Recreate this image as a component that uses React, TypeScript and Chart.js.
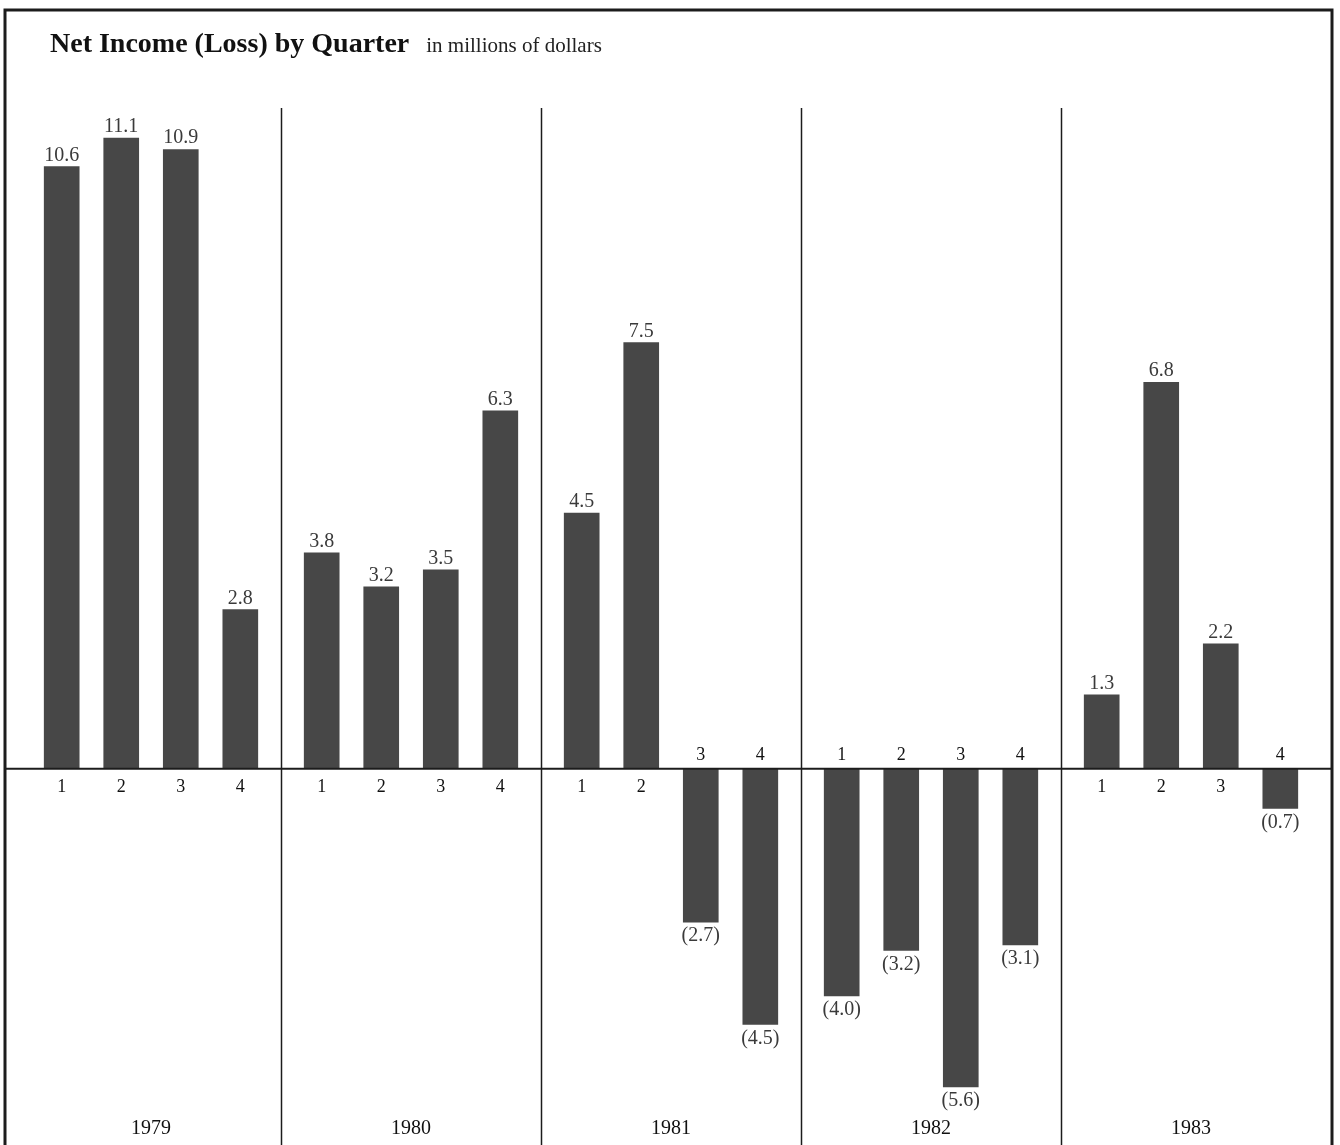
import React, { useEffect, useRef } from "react";
import { Chart, registerables } from "chart.js";

Chart.register(...registerables);

// Net income (loss) per quarter, in millions of dollars
const YEARS = ["1979", "1980", "1981", "1982", "1983"];
const QUARTERS = ["1", "2", "3", "4"];
const income1979 = [10.6, 11.1, 10.9, 2.8];
const income1980 = [3.8, 3.2, 3.5, 6.3];
const income1981 = [4.5, 7.5, -2.7, -4.5];
const income1982 = [-4.0, -3.2, -5.6, -3.1];
const income1983 = [1.3, 6.8, 2.2, -0.7];
const incomeByYear = [income1979, income1980, income1981, income1982, income1983];

const TITLE = "Net Income (Loss) by Quarter";
const SUBTITLE = "in millions of dollars";

// Layout / style
const W = 1340;
const H = 1145;
const QUARTER_STEP = 0.229; // distance between quarter bars, as a fraction of one year section
const SERIF = '"Liberation Serif", "Times New Roman", serif';
const BAR_COLOR = "#474747";
const INK = "#1c1c1c";
const LABEL_COLOR = "#3a3a3a";

const fmt = (v: number) => (v < 0 ? `(${Math.abs(v).toFixed(1)})` : v.toFixed(1));

const points = incomeByYear.flatMap((vals, yi) =>
  vals.map((v, qi) => ({ x: yi + 0.5 + (qi - 1.5) * QUARTER_STEP, y: v }))
);

const decorPlugin = {
  id: "annualReportDecor",
  afterDatasetsDraw(chart: any) {
    const { ctx, chartArea, scales } = chart;
    const xs = scales.x;
    const ys = scales.y;
    const zeroY = ys.getPixelForValue(0);
    const frameL = 5;
    const frameR = 1332;
    const frameT = 10;

    ctx.save();

    // outer frame (top, left, right)
    ctx.strokeStyle = INK;
    ctx.lineWidth = 3;
    ctx.beginPath();
    ctx.moveTo(frameL, H + 5);
    ctx.lineTo(frameL, frameT);
    ctx.lineTo(frameR, frameT);
    ctx.lineTo(frameR, H + 5);
    ctx.stroke();

    // zero line
    ctx.lineWidth = 2;
    ctx.beginPath();
    ctx.moveTo(frameL, zeroY);
    ctx.lineTo(frameR, zeroY);
    ctx.stroke();

    // year dividers
    ctx.lineWidth = 1.5;
    for (let i = 1; i < YEARS.length; i++) {
      const px = Math.round(xs.getPixelForValue(i)) + 0.5;
      ctx.beginPath();
      ctx.moveTo(px, chartArea.top + 21);
      ctx.lineTo(px, H + 5);
      ctx.stroke();
    }

    // title
    ctx.fillStyle = "#111";
    ctx.textAlign = "left";
    ctx.textBaseline = "alphabetic";
    ctx.font = `bold 28px ${SERIF}`;
    ctx.fillText(TITLE, 50, 52);
    const tw = ctx.measureText(TITLE).width;
    ctx.font = `21px ${SERIF}`;
    ctx.fillStyle = "#222";
    ctx.fillText(SUBTITLE, 50 + tw + 17, 52);

    // value and quarter labels
    const meta = chart.getDatasetMeta(0);
    ctx.textAlign = "center";
    meta.data.forEach((bar: any, i: number) => {
      const v = points[i].y;
      const q = QUARTERS[i % 4];
      ctx.font = `20px ${SERIF}`;
      ctx.fillStyle = LABEL_COLOR;
      if (v >= 0) {
        ctx.textBaseline = "alphabetic";
        ctx.fillText(fmt(v), bar.x, bar.y - 6);
        ctx.font = `18px ${SERIF}`;
        ctx.fillStyle = "#111";
        ctx.textBaseline = "middle";
        ctx.fillText(q, bar.x, zeroY + 19);
      } else {
        ctx.textBaseline = "top";
        ctx.fillText(fmt(v), bar.x, bar.y + 4);
        ctx.font = `18px ${SERIF}`;
        ctx.fillStyle = "#111";
        ctx.textBaseline = "middle";
        ctx.fillText(q, bar.x, zeroY - 13);
      }
    });

    // year labels
    ctx.font = `20px ${SERIF}`;
    ctx.fillStyle = "#111";
    ctx.textBaseline = "alphabetic";
    YEARS.forEach((yr, i) => {
      ctx.fillText(yr, xs.getPixelForValue(i + 0.5), chartArea.bottom - 4);
    });

    ctx.restore();
  },
};

export default function App() {
  const canvasRef = useRef<HTMLCanvasElement | null>(null);

  useEffect(() => {
    if (!canvasRef.current) return;
    const chart = new Chart(canvasRef.current, {
      type: "bar",
      data: {
        datasets: [
          {
            data: points as any,
            backgroundColor: BAR_COLOR,
            borderWidth: 0,
            barThickness: 35,
          },
        ],
      },
      options: {
        responsive: false,
        animation: false,
        devicePixelRatio: 1,
        layout: { padding: { left: 21, right: 19, top: 87, bottom: 7 } },
        scales: {
          x: { type: "linear", min: 0, max: 5, offset: false, display: false },
          y: { min: -6.5, max: 12, display: false },
        },
        plugins: {
          legend: { display: false },
          tooltip: { enabled: false },
          title: { display: false },
        },
      },
      plugins: [decorPlugin],
    });
    return () => chart.destroy();
  }, []);

  return (
    <div style={{ position: "absolute", left: 0, top: 0, width: W, height: H, background: "#fff" }}>
      <canvas ref={canvasRef} width={W} height={H} style={{ display: "block" }} />
    </div>
  );
}
